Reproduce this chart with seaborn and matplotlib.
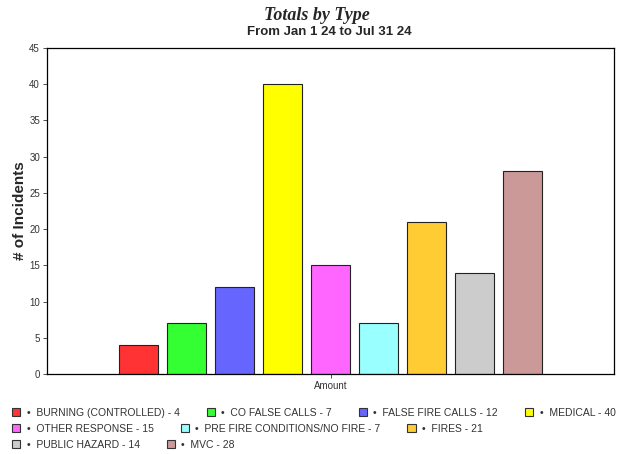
"""Totals by Type bar chart with a row-wise legend."""
import matplotlib
matplotlib.use('Agg')
import matplotlib.pyplot as plt
from matplotlib.patches import Patch
import pandas as pd
import seaborn as sns

types = ['BURNING (CONTROLLED)', 'CO FALSE CALLS', 'FALSE FIRE CALLS',
         'MEDICAL', 'OTHER RESPONSE', 'PRE FIRE CONDITIONS/NO FIRE',
         'FIRES', 'PUBLIC HAZARD', 'MVC']
counts = [4, 7, 12, 40, 15, 7, 21, 14, 28]
colors = ['#FF3333', '#33FF33', '#6666FF', '#FFFF00', '#FF66FF',
          '#99FFFF', '#FFCC33', '#CCCCCC', '#CC9999']
legend_rows = [[0, 1, 2, 3], [4, 5, 6], [7, 8]]

df = pd.DataFrame({'group': ['Amount'] * len(types), 'type': types, 'count': counts})

sns.set_style('ticks')
plt.rcParams['font.family'] = ['Liberation Sans', 'DejaVu Sans']

fig = plt.figure(figsize=(6.21, 4.54), dpi=100)
ax = fig.add_axes([47 / 621, 1 - 374 / 454, 567 / 621, 326 / 454])

sns.barplot(data=df, x='group', y='count', hue='type', hue_order=types,
            palette=colors, width=0.762, gap=0.19, edgecolor='#222222',
            linewidth=0.8, saturation=1, legend=False, ax=ax)

ax.set_xlim(-0.5, 0.5)
ax.set_ylim(0, 45)
ax.set_yticks(range(0, 46, 5))
ax.tick_params(axis='both', labelsize=7, length=3, width=0.6, color='#333333',
               labelcolor='#333333', pad=2)
ax.set_xlabel('')
ax.set_ylabel('# of Incidents', fontsize=11, fontweight='bold', labelpad=2)
for side in ax.spines.values():
    side.set_visible(True)
    side.set_linewidth(0.9)
    side.set_color('black')

fig.text(0.511, 1 - 15 / 454, 'Totals by Type', ha='center', va='center',
         fontsize=13, fontweight='bold', fontstyle='italic',
         family=['Liberation Serif', 'DejaVu Serif'])
fig.text(0.531, 1 - 32 / 454, 'From Jan 1 24 to Jul 31 24', ha='center',
         va='center', fontsize=9.5, fontweight='bold')

# legend, one row at a time so the items flow like the original
for r, row in enumerate(legend_rows):
    handles = [Patch(facecolor=colors[i], edgecolor='#333333', linewidth=0.8)
               for i in row]
    labels = [f'\u2022  {types[i]} - {counts[i]}' for i in row]
    leg = fig.legend(handles, labels, loc='center left', ncol=len(row),
                     bbox_to_anchor=(12 / 621, 1 - (413 + 16 * r) / 454),
                     frameon=False, fontsize=7.5, handlelength=0.8,
                     handleheight=0.8, handletextpad=0.6, columnspacing=2.6,
                     borderpad=0, borderaxespad=0)
    for t in leg.get_texts():
        t.set_color('#333333')

fig.savefig('out.png', dpi=100)
